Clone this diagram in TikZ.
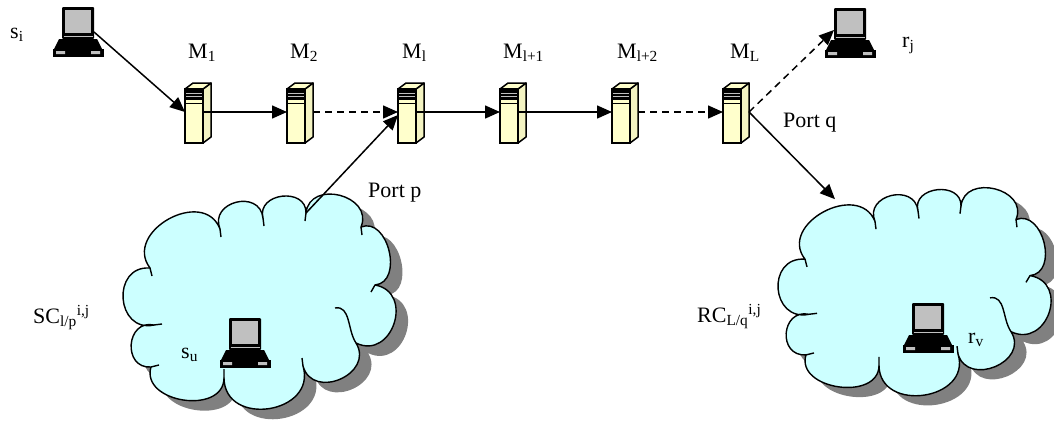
\documentclass[tikz,border=0pt]{standalone}
\usepackage{fontspec}
\setmainfont{Liberation Serif}
\usetikzlibrary{arrows.meta,calc}

\definecolor{cloudfill}{HTML}{CCFFFF}
\definecolor{shadowgray}{HTML}{808080}
\definecolor{boxfill}{HTML}{FFFFCC}
\definecolor{boxside}{HTML}{F4F4C2}
\definecolor{screengray}{HTML}{C0C0C0}

% outline of one cloud, traversed clockwise; each leg is one puff
\newcommand\cloudpath{(150,-268) to[puff=1.45] (220,-229) to[puff=1.7] (263,-218)
  to[puff=1.55] (306,-213) to[puff=1.55] (361,-227) to[puff=1.25] (375,-285)
  to[puff=1.7] (356,-343) to[puff=1.6] (303,-366) to[puff=1.6] (224,-378)
  to[puff=1.3] (151,-367) to[puff=1.75] (154,-325) to[puff=1.75] (150,-268) -- cycle}

\tikzset{
  lbl/.style={font=\fontsize{22}{26}\selectfont, inner sep=0pt, anchor=base west},
  arr/.style={line width=1.5pt, -{Triangle[length=15pt,width=13pt]}},
  darr/.style={arr, dash pattern=on 7pt off 5pt},
  puff/.style={out=98, in=82, relative, looseness=#1},
  pics/server/.style={code={
    \filldraw[fill=boxside, line width=1.5pt, line join=round]
      (9,27) -- (17,33) -- (17,-21) -- (9,-27) -- cycle;
    \filldraw[fill=boxfill, line width=1.5pt, line join=round]
      (-9,27) -- (-1,33) -- (17,33) -- (9,27) -- cycle;
    \node[draw, fill=boxfill, line width=1.5pt, minimum width=18pt,
          minimum height=54pt, inner sep=0pt] (-f) at (0,0) {};
    \fill (-9,27) rectangle (9,16);
    \draw[screengray, line width=0.8pt] (-8,23) -- (8,23) (-8,19.5) -- (8,19.5);
    \draw[line width=0.8pt] (-9,13) -- (9,13);
    \draw[line width=1.5pt] (-9,-27) rectangle (9,27);
    \coordinate (-in) at (-9,4);
    \coordinate (-inb) at (-9,1);
    \coordinate (-out) at (9,4);
    \coordinate (-back) at (17,4);
  }},
  pics/laptop/.style={code={
    \fill[rounded corners=1pt] (0,0) rectangle (32,-32);
    \fill[screengray] (3,-3) rectangle (29,-26);
    \draw[screengray, line width=0.7pt] (1.5,-29) -- (30.5,-29);
    \fill (-3,-32) -- (35,-32) -- (40,-42) -- (-8,-42) -- cycle;
    \filldraw[fill=black, line width=1pt] (-9,-42) rectangle (41,-49);
    \fill[screengray] (-6,-44) rectangle (3,-47) (29,-44) rectangle (38,-47);
    \node[inner sep=0pt, minimum width=50pt, minimum height=49pt] (-n) at (16,-24.5) {};
    \coordinate (-port) at (32,-25);
    \coordinate (-in) at (0,-22);
  }},
  pics/cloudshape/.style={code={
    \fill[shadowgray, shift={(12,-10)}] \cloudpath;
    \filldraw[fill=cloudfill, line width=1.4pt, line join=round] \cloudpath;
    \draw[line width=1.4pt]
      (150,-268) -- (152,-276)  (220,-229) -- (221,-237)
      (263,-218) -- (264,-226)  (306,-213) -- (305,-221)
      (361,-227) -- (362,-235)  (375,-285) -- (371,-292)
      (303,-366) -- (302,-358)  (224,-378) -- (224,-369)
      (151,-367) -- (159,-365)  (154,-325) -- (162,-324);
    \draw[line width=1.4pt] (335,-308) to[out=10, in=123.5] (356,-343);
    \coordinate (-out) at (306,-213);
    \coordinate (-in) at (180,-206);
  }},
}

\begin{document}
\begin{tikzpicture}[x=1pt, y=1pt]
  \useasboundingbox (0,0) rectangle (1054,-423);

  % the two clusters
  \pic (SC) at (0,0) {cloudshape};
  \pic[yscale=0.967] (RC) at (655,0) {cloudshape};

  % hosts
  \pic (si) at (62,-7) {laptop};
  \pic (rj) at (834,-8) {laptop};
  \pic (su) at (229,-318) {laptop};
  \pic (rv) at (912,-303) {laptop};

  % routers along the path
  \pic (M1) at (194,-116) {server};
  \pic (M2) at (296,-116) {server};
  \pic (Ml) at (407,-116) {server};
  \pic (Mlp1) at (509,-116) {server};
  \pic (Mlp2) at (621,-116) {server};
  \pic (ML) at (732,-116) {server};

  % links
  \draw[arr] (si-port) -- (M1-in);
  \draw[arr] (M1-out) -- (M2-in);
  \draw[darr] (M2-back) -- (Ml-in);
  \draw[arr] (Ml-out) -- (Mlp1-in);
  \draw[arr] (Mlp1-out) -- (Mlp2-in);
  \draw[darr] (Mlp2-back) -- (ML-in);
  \draw[darr] (ML-back) -- (rj-in);
  \draw[arr] (ML-back) -- (RC-in);
  \draw[arr] (SC-out) -- (Ml-inb);

  % labels
  \node[lbl] (tsi) at (10,-38) {s\textsubscript{i}};
  \node[lbl] (tM1) at (188,-58) {M\textsubscript{1}};
  \node[lbl] (tM2) at (290,-58) {M\textsubscript{2}};
  \node[lbl] (tMl) at (402,-58) {M\textsubscript{l}};
  \node[lbl] (tMlp1) at (503,-58) {M\textsubscript{l+1}};
  \node[lbl] (tMlp2) at (617,-58) {M\textsubscript{l+2}};
  \node[lbl] (tML) at (730,-58) {M\textsubscript{L}};
  \node[lbl] (trj) at (902,-47) {r\textsubscript{j}};
  \node[lbl] (tpq) at (783,-127) {Port q};
  \node[lbl] (tpp) at (368,-197) {Port p};
  \node[lbl] (tsu) at (181,-358) {s\textsubscript{u}};
  \node[lbl] (trv) at (968,-343) {r\textsubscript{v}};
  \node[lbl] (tSC) at (33,-323) {SC\textsubscript{l/p}\textsuperscript{i,j}};
  \node[lbl] (tRC) at (697,-322) {RC\textsubscript{L/q}\textsuperscript{i,j}};
\end{tikzpicture}
\end{document}
